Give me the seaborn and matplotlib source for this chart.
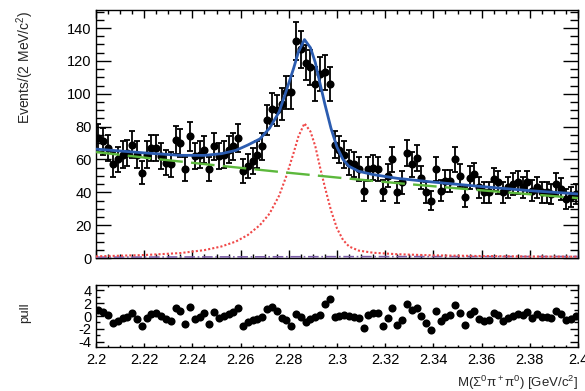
import numpy as np
import pandas as pd
import matplotlib
matplotlib.use("Agg")
import matplotlib.pyplot as plt
from matplotlib.ticker import MultipleLocator, FuncFormatter
import seaborn as sns

# ---------------- data ----------------
mass_min, mass_max, n_bins = 2.2, 2.4, 100

counts = [73, 71, 67, 57, 60, 63, 64, 69, 63, 52,
          63, 67, 67, 62, 58, 57, 72, 70, 54, 74,
          62, 63, 66, 54, 68, 62, 63, 66, 68, 73,
          53, 56, 59, 63, 68, 84, 91, 90, 94, 101,
          101, 132, 127, 119, 116, 106, 112, 113, 106, 69,
          66, 63, 58, 57, 54, 41, 54, 55, 54, 41,
          50, 60, 40, 46, 64, 57, 61, 49, 40, 35,
          54, 41, 47, 47, 60, 50, 37, 49, 51, 43,
          40, 40, 48, 46, 40, 43, 45, 46, 43, 46,
          41, 43, 40, 40, 39, 45, 42, 36, 37, 39]

pulls = [0.9, 0.6, 0.1, -1.1, -0.7, -0.3, -0.2, 0.4, -0.4, -1.6,
         -0.3, 0.3, 0.5, 0.0, -0.5, -0.8, 1.2, 0.8, -1.3, 1.4,
         -0.5, -0.1, 0.4, -1.3, 0.6, -0.3, 0.0, 0.3, 0.6, 1.2,
         -1.5, -1.0, -0.6, -0.4, -0.1, 1.1, 1.4, 0.8, -0.3, -0.6,
         -1.5, 0.3, -0.1, -1.0, -0.5, -0.2, 0.2, 1.9, 2.7, -0.1,
         0.0, 0.2, 0.0, -0.1, -0.3, -1.9, 0.2, 0.5, 0.4, -1.5,
         -0.3, 1.2, -1.4, -0.6, 1.9, 0.9, 1.3, 0.0, -1.1, -2.1,
         0.8, -0.7, -0.1, 0.1, 1.7, 0.5, -1.4, 0.3, 0.8, -0.5,
         -0.8, -0.6, 0.5, 0.2, -0.7, -0.3, 0.0, 0.3, 0.2, 0.6,
         -0.3, 0.3, -0.2, -0.2, -0.3, 0.8, 0.3, -0.6, -0.4, 0.0]

# fit curves
curve_x = [2.200, 2.220, 2.235, 2.245, 2.252, 2.258, 2.263, 2.268, 2.272,
           2.276, 2.279, 2.282, 2.284, 2.2865, 2.289, 2.291, 2.293, 2.295,
           2.2975, 2.300, 2.3025, 2.305, 2.309, 2.315, 2.325, 2.340, 2.360,
           2.380, 2.400]
total_fit = [66.3, 64.0, 62.5, 62.5, 63.5, 65.5, 68.8, 72.5, 79.0,
             89.0, 102.0, 115.5, 125.5, 133.0, 128.0, 119.0, 106.0, 93.5,
             79.0, 67.5, 60.0, 55.8, 52.8, 50.8, 48.5, 46.2, 43.5,
             41.0, 39.0]
signal = [1.0, 1.8, 3.0, 4.8, 7.0, 10.0, 14.0, 20.0, 27.0,
          38.0, 50.0, 64.0, 74.0, 82.0, 77.0, 68.0, 55.0, 43.0,
          29.0, 18.0, 11.0, 7.0, 4.5, 3.2, 2.3, 1.6, 1.2,
          0.9, 0.8]

bkg_x = [2.200, 2.225, 2.250, 2.275, 2.300, 2.325, 2.350, 2.375, 2.400]
bkg = [64.5, 60.3, 56.4, 52.6, 49.0, 45.6, 42.4, 39.4, 36.5]

peak_bkg_x = [2.200, 2.300, 2.400]
peak_bkg = [0.5, 0.8, 0.9]

# ---------------- style ----------------
sns.set_theme(style="ticks")
plt.rcParams["font.family"] = ["Liberation Sans", "DejaVu Sans"]
plt.rcParams["mathtext.fontset"] = "custom"
plt.rcParams["mathtext.rm"] = "Liberation Sans"
plt.rcParams["mathtext.it"] = "Liberation Sans:italic"
plt.rcParams["axes.unicode_minus"] = False

W, H = 585, 391
fig = plt.figure(figsize=(W / 100, H / 100), dpi=100)

def frac(l, t, r, b):
    return [l / W, 1 - b / H, (r - l) / W, (b - t) / H]

ax = fig.add_axes(frac(96, 10, 578, 258))
axp = fig.add_axes(frac(96, 285, 578, 347))

edges = np.linspace(mass_min, mass_max, n_bins + 1)
centers = 0.5 * (edges[:-1] + edges[1:])
df = pd.DataFrame({"m": centers, "n": counts, "pull": pulls})
df["err"] = np.sqrt(df["n"])

# main panel
ax.errorbar(df["m"], df["n"], yerr=df["err"], fmt="none", ecolor="black",
            elinewidth=1.3, capsize=2.4, capthick=1.3, zorder=3)
sns.scatterplot(data=df, x="m", y="n", ax=ax, color="black", s=34,
                edgecolor="black", linewidth=0, zorder=4, legend=False)

cdf = pd.DataFrame({"m": curve_x, "tot": total_fit, "sig": signal})
bdf = pd.DataFrame({"m": bkg_x, "bkg": bkg})
pdf = pd.DataFrame({"m": peak_bkg_x, "pk": peak_bkg})

sns.lineplot(data=pdf, x="m", y="pk", ax=ax, color="#7b5ea7", lw=1.2,
             linestyle="-.", zorder=5)
sns.lineplot(data=cdf, x="m", y="sig", ax=ax, color="#f04848", lw=1.5,
             linestyle=(0, (1, 1)), zorder=5)
sns.lineplot(data=bdf, x="m", y="bkg", ax=ax, color="#5cb83c", lw=1.7,
             linestyle=(0, (10, 3.5)), zorder=5)
sns.lineplot(data=cdf, x="m", y="tot", ax=ax, color="#2b5cb0", lw=2.0,
             zorder=6)

ax.set_xlim(mass_min, mass_max)
ax.set_ylim(0, 151)
ax.set_xlabel("")
ax.set_ylabel("")
ax.xaxis.set_major_locator(MultipleLocator(0.02))
ax.xaxis.set_minor_locator(MultipleLocator(0.005))
ax.yaxis.set_major_locator(MultipleLocator(20))
ax.yaxis.set_minor_locator(MultipleLocator(5))
ax.tick_params(axis="both", which="both", direction="in", top=True,
               right=True, colors="black", labelsize=10.5)
ax.tick_params(axis="x", which="major", length=5.5, width=1)
ax.tick_params(axis="x", which="minor", length=3, width=1)
ax.tick_params(axis="y", which="major", length=11, width=1)
ax.tick_params(axis="y", which="minor", length=5.5, width=1)
ax.tick_params(axis="x", labelbottom=False)
ax.tick_params(axis="y", pad=3)
for s in ax.spines.values():
    s.set_linewidth(1.0)
    s.set_color("black")

# pull panel
sns.scatterplot(data=df, x="m", y="pull", ax=axp, color="black", s=34,
                edgecolor="black", linewidth=0, zorder=4, legend=False)
axp.set_xlim(mass_min, mass_max)
axp.set_ylim(-4.8, 4.8)
axp.set_xlabel("")
axp.set_ylabel("")
axp.xaxis.set_major_locator(MultipleLocator(0.02))
axp.xaxis.set_minor_locator(MultipleLocator(0.005))
axp.yaxis.set_major_locator(MultipleLocator(2))
axp.yaxis.set_minor_locator(MultipleLocator(1))
axp.xaxis.set_major_formatter(FuncFormatter(lambda v, p: f"{v:g}"))
axp.yaxis.set_major_formatter(FuncFormatter(lambda v, p: f"{v:g}"))
axp.tick_params(axis="both", which="both", direction="in", top=True,
                right=True, colors="black", labelsize=10.5)
axp.tick_params(axis="x", which="major", length=3, width=1, pad=4)
axp.tick_params(axis="x", which="minor", length=1.5, width=1)
axp.tick_params(axis="y", which="major", length=6, width=1, pad=3)
axp.tick_params(axis="y", which="minor", length=3, width=1)
for s in axp.spines.values():
    s.set_linewidth(1.0)
    s.set_color("black")

fig.text(25 / W, 1 - 10 / H, "Events/(2 MeV/c$^2$)", rotation=90,
         ha="center", va="top", fontsize=10)
fig.text(25 / W, 1 - 313 / H, "pull", rotation=90, ha="center",
         va="center", fontsize=9.5)
fig.text(578 / W, 1 - 383 / H,
         r"M($\mathregular{\Sigma^0\pi^+\pi^0}$) [GeV/c$^2$]",
         ha="right", va="center", fontsize=9.5)

fig.savefig("out.png", dpi=100)
